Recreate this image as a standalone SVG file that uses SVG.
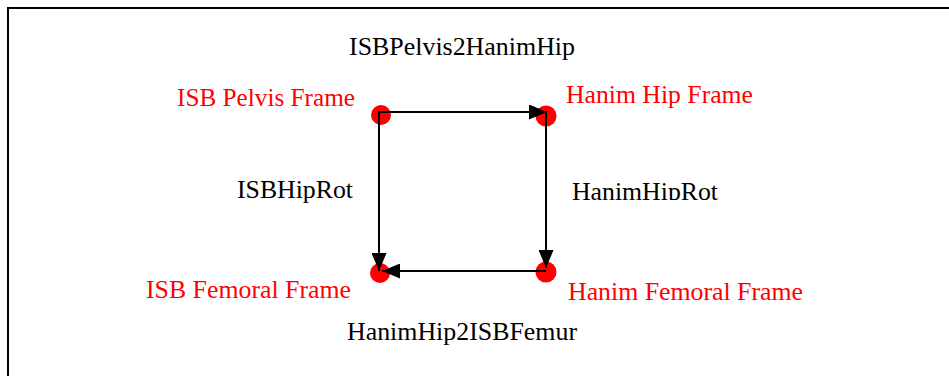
<svg xmlns="http://www.w3.org/2000/svg" width="949" height="376" viewBox="0 0 949 376">
  <defs>
    <marker id="arrow" viewBox="0 0 18 15" refX="18" refY="7.5" markerWidth="18" markerHeight="15" markerUnits="userSpaceOnUse" orient="auto">
      <path d="M0,0 L18,7.5 L0,15 Z" fill="#000"/>
    </marker>
    <clipPath id="clipRot">
      <rect x="560" y="170" width="200" height="30"/>
    </clipPath>
  </defs>
  <style>
    .lbl { font-family: "Liberation Serif", "Times New Roman", serif; font-size: 25.6px; }
    .frame { fill: #ff0000; }
    .xf { fill: #000; }
    .dot { fill: #ff0000; }
    .edge { stroke: #000; stroke-width: 2; fill: none; marker-end: url(#arrow); }
  </style>
  <rect width="949" height="376" fill="#fff"/>
  <!-- outer frame, open on right and bottom -->
  <rect x="8" y="8" width="960" height="400" fill="none" stroke="#000" stroke-width="2"/>

  <g id="isb-pelvis">
    <circle class="dot" cx="381" cy="115" r="10"/>
    <text class="lbl frame" x="177" y="106" textLength="178" lengthAdjust="spacingAndGlyphs">ISB Pelvis Frame</text>
  </g>
  <g id="hanim-hip">
    <circle class="dot" cx="546" cy="116" r="10.5"/>
    <text class="lbl frame" x="566" y="103" textLength="187" lengthAdjust="spacingAndGlyphs">Hanim Hip Frame</text>
  </g>
  <g id="isb-femoral">
    <circle class="dot" cx="380" cy="273" r="10"/>
    <text class="lbl frame" x="146" y="298" textLength="205" lengthAdjust="spacingAndGlyphs">ISB Femoral Frame</text>
  </g>
  <g id="hanim-femoral">
    <circle class="dot" cx="546" cy="272" r="10.5"/>
    <text class="lbl frame" x="568" y="300" textLength="235" lengthAdjust="spacingAndGlyphs">Hanim Femoral Frame</text>
  </g>

  <g id="connectors">
    <line class="edge" x1="379" y1="112" x2="547" y2="112"/>
    <line class="edge" x1="379" y1="111" x2="379" y2="271"/>
    <line class="edge" x1="546" y1="113" x2="546" y2="268"/>
    <line class="edge" x1="546" y1="271" x2="382" y2="271"/>
  </g>

  <g id="transform-labels">
    <text class="lbl xf" x="349" y="55" textLength="226" lengthAdjust="spacingAndGlyphs">ISBPelvis2HanimHip</text>
    <text class="lbl xf" x="237" y="198" textLength="116" lengthAdjust="spacingAndGlyphs">ISBHipRot</text>
    <text class="lbl xf" x="572" y="200" textLength="146" lengthAdjust="spacingAndGlyphs" clip-path="url(#clipRot)">HanimHipRot</text>
    <text class="lbl xf" x="347" y="340" textLength="230" lengthAdjust="spacingAndGlyphs">HanimHip2ISBFemur</text>
  </g>
</svg>
